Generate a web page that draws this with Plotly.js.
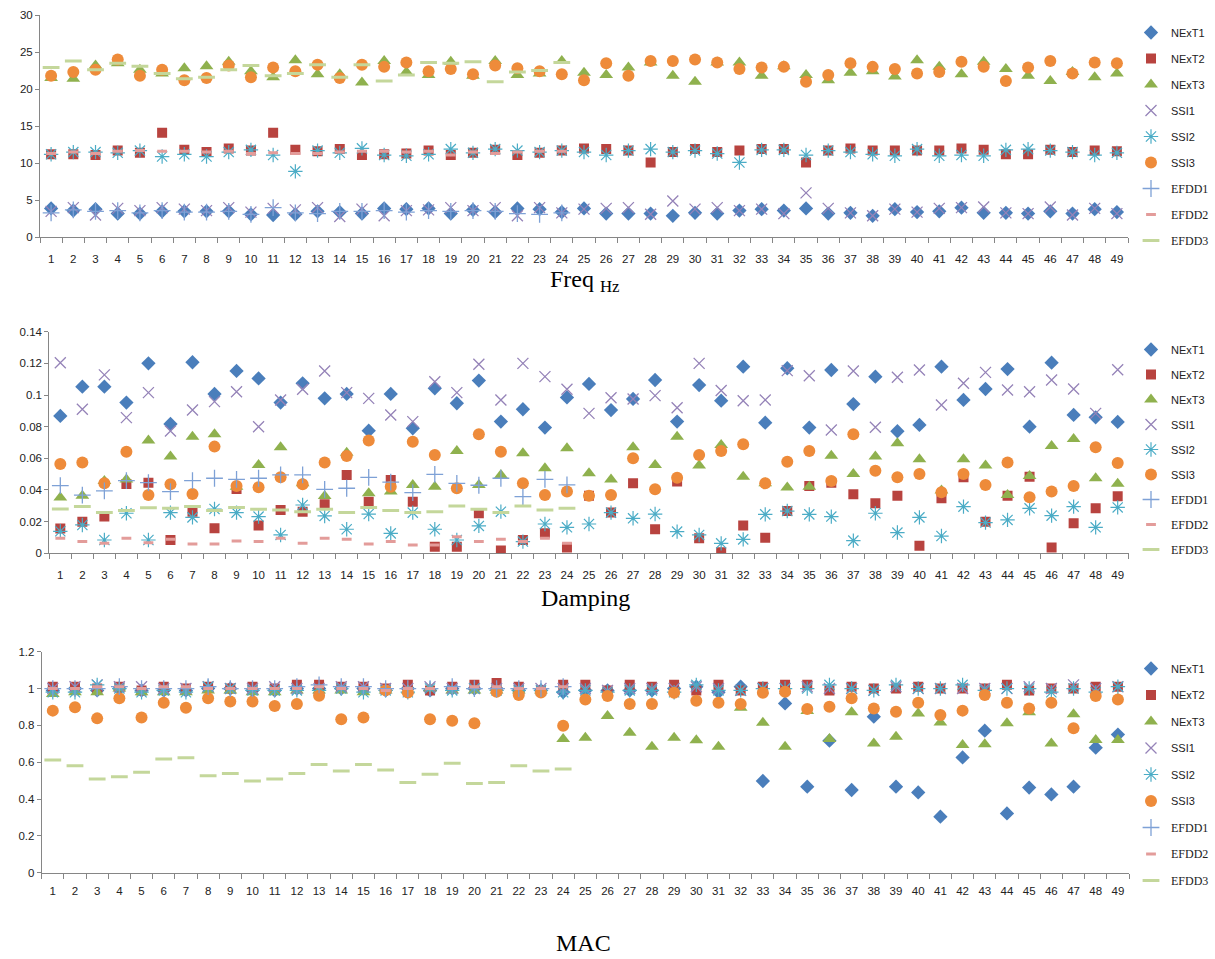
<!DOCTYPE html>
<html><head><meta charset="utf-8">
<script src="https://cdn.plot.ly/plotly-3.0.1.min.js"></script>
<style>html,body{margin:0;padding:0;background:#fff}#chart{width:1215px;height:959px}</style>
</head><body><div id="chart"></div>
<script>
// ---------- categories ----------
const categories = ['1','2','3','4','5','6','7','8','9','10','11','12','13','14','15','16','17','18','19','20','21','22','23','24','25','26','27','28','29','30','31','32','33','34','35','36','37','38','39','40','41','42','43','44','45','46','47','48','49'];
const seriesNames = ['NExT1','NExT2','NExT3','SSI1','SSI2','SSI3','EFDD1','EFDD2','EFDD3'];
const panelTitles = ['Freq <sub>Hz</sub>','Damping','MAC'];

// ---------- Freq (Hz) ----------
const freq_NExT1 = [3.9,3.6,3.8,3.2,3.2,3.5,3.5,3.5,3.5,3.1,3.0,3.1,3.5,3.4,3.2,3.9,3.8,3.9,3.2,3.7,3.4,3.9,3.8,3.4,3.9,3.2,3.2,3.2,2.9,3.3,3.2,3.6,3.8,3.6,3.9,3.2,3.3,2.9,3.8,3.4,3.5,4.0,3.3,3.3,3.2,3.5,3.2,3.8,3.4];
const freq_NExT2 = [11.2,11.2,11.1,11.7,11.4,14.1,11.8,11.5,12.0,11.7,14.1,11.8,11.6,11.9,11.1,11.2,11.3,11.7,11.1,11.4,11.8,11.1,11.4,11.7,12.0,11.9,11.7,10.1,11.5,11.9,11.5,11.7,11.9,11.9,10.1,11.7,12.0,11.7,11.7,11.7,11.7,12.0,11.8,11.2,11.2,11.8,11.5,11.7,11.6];
const freq_NExT3 = [21.5,21.4,23.2,23.5,22.6,22.1,22.8,23.1,23.7,22.4,21.6,23.9,22.0,22.0,20.9,23.8,22.3,21.9,23.7,21.8,23.8,21.9,22.1,23.8,22.2,21.9,22.9,23.6,21.8,21.0,23.6,23.6,21.8,23.1,21.9,21.2,22.2,22.4,21.7,23.9,23.0,22.0,23.7,22.7,21.8,21.1,22.3,21.6,22.1];
const freq_SSI1  = [3.5,4.0,3.0,3.9,3.6,4.0,3.8,3.6,4.0,3.4,3.9,3.7,4.0,2.8,3.8,2.9,3.6,3.7,4.0,3.6,4.0,2.9,4.0,3.3,3.8,3.9,4.0,3.1,4.9,3.8,4.0,3.6,3.8,3.2,6.0,3.9,3.3,2.9,3.8,3.4,3.9,4.0,4.1,3.3,3.2,4.1,3.0,3.9,3.2];
const freq_SSI2  = [11.2,11.5,11.5,11.4,11.7,10.9,11.2,10.9,11.5,11.8,11.1,8.9,11.7,11.4,12.0,11.1,11.0,11.2,11.9,11.4,11.9,11.7,11.5,11.7,11.5,11.1,11.7,11.9,11.5,11.7,11.3,10.1,11.8,11.8,11.1,11.7,11.5,11.2,11.0,11.9,11.0,11.1,11.0,11.8,11.9,11.7,11.5,11.1,11.4];
const freq_SSI3  = [21.8,22.3,22.6,24.0,21.8,22.6,21.2,21.5,23.2,21.6,22.9,22.4,23.3,21.5,23.3,23.0,23.6,22.4,22.7,22.0,23.2,22.8,22.4,22.0,21.2,23.5,21.8,23.8,23.8,24.0,23.6,22.7,22.9,23.0,21.0,21.9,23.5,23.0,22.7,22.1,22.3,23.7,23.0,21.1,22.9,23.8,22.1,23.6,23.5];
const freq_EFDD1 = [3.3,3.7,3.5,3.6,3.3,3.6,3.4,3.4,3.5,3.1,4.0,3.3,3.2,3.5,3.5,3.6,3.4,3.6,3.5,3.6,3.5,3.2,3.1,3.3];
const freq_EFDD2 = [11.3,11.5,11.3,11.6,11.7,11.6,11.6,11.5,11.6,11.3,11.4,11.3,11.3,11.5,11.6,11.6,11.5,11.6,11.1,11.5,11.3,11.5,11.6,11.6];
const freq_EFDD3 = [22.9,23.8,22.6,23.5,23.1,22.1,21.4,21.6,22.6,23.2,21.8,22.1,23.3,21.6,23.3,21.1,21.9,23.6,23.5,23.7,21.0,22.3,22.5,23.6];

// ---------- Damping ----------
const damp_NExT1 = [0.0868,0.1053,0.1053,0.0952,0.12,0.0817,0.1207,0.1007,0.1152,0.1105,0.0952,0.1074,0.0979,0.1007,0.0775,0.1007,0.079,0.1042,0.0948,0.1091,0.0832,0.091,0.0794,0.0985,0.107,0.0905,0.0975,0.1095,0.0832,0.1063,0.0964,0.1179,0.0825,0.1169,0.0794,0.1158,0.0943,0.1116,0.0771,0.0811,0.1179,0.0969,0.1038,0.1164,0.080,0.1204,0.0874,0.0859,0.083];
const damp_NExT2 = [0.0156,0.020,0.0232,0.0438,0.0446,0.0084,0.0263,0.0158,0.0406,0.0175,0.0274,0.0263,0.031,0.0495,0.0326,0.0463,0.0326,0.0042,0.0042,0.0253,0.0017,0.0084,0.0126,0.0036,0.0364,0.0257,0.0442,0.0152,0.0453,0.0095,0.0006,0.0175,0.0099,0.0267,0.0425,0.0446,0.0373,0.0316,0.0364,0.0048,0.0347,0.048,0.020,0.0364,0.0484,0.0036,0.019,0.0284,0.036];
const damp_NExT3 = [0.0352,0.0364,0.0457,0.0467,0.0712,0.0611,0.0737,0.0752,0.042,0.0558,0.067,0.0442,0.0362,0.0636,0.0379,0.039,0.0432,0.0421,0.0646,0.0432,0.0495,0.0632,0.0537,0.0663,0.0505,0.0467,0.067,0.0558,0.0737,0.0554,0.0684,0.0484,0.0442,0.0415,0.0421,0.0617,0.0501,0.0611,0.0695,0.0594,0.0396,0.0594,0.0554,0.0368,0.0489,0.0678,0.0722,0.0474,0.044];
const damp_SSI1  = [0.1204,0.091,0.1127,0.0857,0.1015,0.0773,0.0905,0.0958,0.1021,0.080,0.0969,0.1036,0.1152,0.1015,0.0979,0.0874,0.0832,0.1084,0.1015,0.1194,0.0969,0.12,0.1116,0.1036,0.0884,0.0983,0.0975,0.0996,0.092,0.12,0.1028,0.0964,0.0969,0.1154,0.1122,0.0779,0.1152,0.0796,0.1112,0.1158,0.0937,0.1074,0.1143,0.1032,0.1021,0.1095,0.1038,0.0884,0.116];
const damp_SSI2  = [0.0139,0.0179,0.0084,0.0253,0.0084,0.0257,0.0227,0.028,0.0257,0.0232,0.0116,0.0305,0.0236,0.0152,0.0248,0.0126,0.0257,0.0152,0.0084,0.0173,0.0263,0.0074,0.0185,0.0164,0.0185,0.0257,0.0221,0.0248,0.0137,0.0116,0.0063,0.0088,0.0246,0.0267,0.0246,0.0232,0.008,0.0253,0.0131,0.0227,0.0109,0.0295,0.0194,0.0211,0.0284,0.0238,0.0295,0.0164,0.029];
const damp_SSI3  = [0.0564,0.0573,0.0442,0.0642,0.0368,0.0436,0.0375,0.0674,0.0425,0.0417,0.048,0.0436,0.0573,0.0615,0.0712,0.0421,0.0705,0.0621,0.0411,0.0752,0.0642,0.0442,0.0368,0.039,0.0364,0.0368,0.060,0.0404,0.0478,0.0621,0.0646,0.0689,0.0442,0.0579,0.0646,0.0457,0.0752,0.0522,0.048,0.0501,0.0385,0.0501,0.0432,0.0573,0.0354,0.039,0.0425,0.067,0.057];
const damp_EFDD1 = [0.0427,0.0368,0.0394,0.0459,0.0446,0.039,0.0459,0.0474,0.0467,0.0474,0.0495,0.0495,0.0404,0.0411,0.048,0.045,0.0383,0.0499,0.0442,0.043,0.0474,0.0358,0.0467,0.0432];
const damp_EFDD2 = [0.0095,0.0074,0.0063,0.0095,0.0067,0.0088,0.0059,0.0059,0.0078,0.0074,0.0095,0.0063,0.0095,0.0088,0.0059,0.0074,0.0053,0.0053,0.0105,0.0074,0.0088,0.0074,0.0095,0.0063];
const damp_EFDD3 = [0.028,0.0295,0.0257,0.027,0.0288,0.0284,0.0295,0.027,0.029,0.0278,0.0274,0.0263,0.0278,0.0257,0.029,0.027,0.0257,0.0263,0.0299,0.0278,0.0257,0.0299,0.0274,0.0284];

// ---------- MAC ----------
const mac_NExT1 = [0.99,1.0,0.99,1.0,0.99,0.99,0.99,1.0,1.0,0.99,0.99,1.0,1.0,1.0,1.0,0.99,1.0,0.99,1.0,1.0,1.0,0.99,0.99,0.98,0.99,0.99,0.99,0.99,1.0,1.01,0.98,1.01,0.498,0.919,0.467,0.717,0.449,0.847,0.467,0.436,0.304,0.626,0.771,0.322,0.462,0.425,0.467,0.679,0.75];
const mac_NExT2 = [1.01,1.01,1.0,1.01,0.99,1.01,1.0,1.01,1.0,1.01,1.0,1.02,1.02,1.01,1.01,1.0,1.02,0.99,1.01,1.02,1.03,1.01,0.99,1.02,1.02,0.99,1.02,1.01,1.02,0.99,1.02,0.99,1.01,1.02,1.02,0.99,1.01,1.0,1.0,1.01,1.0,1.0,1.0,1.02,0.99,1.0,1.0,1.01,1.01];
const mac_NExT3 = [0.97,0.98,0.98,1.0,0.98,0.98,0.98,0.99,0.99,0.98,0.98,0.99,0.99,0.99,0.98,0.99,0.99,1.0,0.99,0.99,0.99,0.99,0.99,0.726,0.733,0.851,0.76,0.684,0.733,0.719,0.684,0.896,0.814,0.684,0.878,0.726,0.871,0.702,0.738,0.865,0.816,0.693,0.697,0.811,0.871,0.702,0.86,0.72,0.72];
const mac_SSI1  = [1.0,1.01,1.02,1.01,1.01,1.0,1.0,1.01,1.0,1.0,1.01,1.0,1.0,1.01,1.01,1.0,1.0,1.01,1.0,1.0,1.0,1.0,1.0,1.0,1.0,0.99,1.0,1.0,1.0,1.01,1.0,0.99,1.0,1.0,1.01,1.0,1.0,0.99,1.01,1.0,1.0,1.0,1.0,1.0,1.01,1.0,1.02,1.0,1.01];
const mac_SSI2  = [0.98,0.98,1.02,1.0,0.98,0.99,0.98,1.01,1.0,0.99,0.99,0.99,0.99,1.0,0.98,0.99,0.98,1.0,0.99,1.0,0.99,0.99,0.99,0.98,0.99,0.98,0.99,0.99,0.98,1.02,0.99,0.99,1.0,1.0,1.0,1.02,1.0,0.99,1.02,1.0,1.0,1.02,0.99,1.0,1.0,0.98,1.0,0.98,1.01];
const mac_SSI3  = [0.88,0.898,0.838,0.947,0.843,0.923,0.896,0.947,0.929,0.929,0.905,0.916,0.961,0.833,0.843,0.99,0.979,0.833,0.825,0.811,0.983,0.965,0.979,0.798,0.941,0.959,0.916,0.916,0.977,0.934,0.923,0.916,0.977,0.983,0.889,0.901,0.947,0.892,0.874,0.923,0.856,0.88,0.965,0.923,0.892,0.923,0.784,0.959,0.94];
const mac_EFDD1 = [1.0,1.0,1.0,1.01,1.0,1.0,1.0,1.01,1.0,1.0,1.0,1.01,1.02,1.01,1.01,1.0,1.0,1.0,1.01,1.0,1.0,1.0,1.0,1.01];
const mac_EFDD2 = [1.0,1.0,1.01,1.01,1.0,1.01,1.01,1.0,1.0,1.0,1.0,1.0,1.01,1.0,1.0,0.99,1.0,1.0,1.0,1.01,1.01,1.0,1.0,1.01];
const mac_EFDD3 = [0.612,0.581,0.509,0.521,0.545,0.617,0.624,0.527,0.539,0.498,0.509,0.539,0.588,0.552,0.588,0.557,0.49,0.534,0.594,0.485,0.49,0.581,0.552,0.563];

// ---------- styles ----------
const styles = {
  NExT1: {symbol:'diamond', size:11, color:'#4A7EBB', open:false},
  NExT2: {symbol:'square', size:10, color:'#B8433F', open:false},
  NExT3: {symbol:'triangle-up', size:12, color:'#8FB14E', open:false},
  SSI1:  {symbol:'x-thin-open', size:11, color:'#9583B8', open:true, lw:1.3},
  SSI2:  {symbol:'asterisk-open', size:12, color:'#4BACC6', open:true, lw:1.2},
  SSI3:  {symbol:'circle', size:12, color:'#EE8B3A', open:false},
  EFDD1: {symbol:'cross-thin-open', size:12, color:'#7EA1D6', open:true, lw:1.3},
  EFDD2: {symbol:'line-ew-open', size:7, color:'#E39C9A', open:true, lw:3},
  EFDD3: {symbol:'line-ew-open', size:12, color:'#C4D79B', open:true, lw:3}
};
const legendLabel = n => n.startsWith('EFDD')
  ? '<span style="font-family:Liberation Serif;font-size:12px">' + n + '</span>' : n;

const panels = [
  {xa:'x',  ya:'y',  lg:'legend',  data:[freq_NExT1,freq_NExT2,freq_NExT3,freq_SSI1,freq_SSI2,freq_SSI3,freq_EFDD1,freq_EFDD2,freq_EFDD3]},
  {xa:'x2', ya:'y2', lg:'legend2', data:[damp_NExT1,damp_NExT2,damp_NExT3,damp_SSI1,damp_SSI2,damp_SSI3,damp_EFDD1,damp_EFDD2,damp_EFDD3]},
  {xa:'x3', ya:'y3', lg:'legend3', data:[mac_NExT1,mac_NExT2,mac_NExT3,mac_SSI1,mac_SSI2,mac_SSI3,mac_EFDD1,mac_EFDD2,mac_EFDD3]}
];

const traces = [];
panels.forEach((p, pi) => {
  seriesNames.forEach((name, si) => {
    const st = styles[name];
    const vals = p.data[si];
    const marker = {symbol: st.symbol, size: st.size};
    if (st.open) { marker.color = st.color; marker.line = {color: st.color, width: st.lw}; }
    else { marker.color = st.color; marker.line = {width: 0}; }
    traces.push({
      type:'scatter', mode:'markers',
      x: categories.slice(0, vals.length), y: vals,
      xaxis: p.xa, yaxis: p.ya, legend: p.lg,
      legendgroup: 'p' + pi + name,
      name: legendLabel(name), marker: marker, hoverinfo:'skip'
    });
  });
});

const W = 1215, H = 959;
const tickFont = {family:'Liberation Sans, Arial, sans-serif', size:11.5, color:'#222'};
function xAx(l, r, anchor, standoff) {
  return {domain:[l/W, r/W], anchor: anchor, type:'category', categoryorder:'array', categoryarray: categories,
    range:[-0.5, 48.5], tickmode:'linear', tick0:0, dtick:1, tickson:'boundaries', ticks:'outside', ticklen:5,
    ticklabelstandoff: standoff,
    tickangle:0, tickcolor:'#868686', showline:true, linecolor:'#868686', linewidth:1, showgrid:false, zeroline:false,
    tickfont: tickFont, fixedrange:true};
}
function yAx(top, bot, anchor, rng, dt) {
  return {domain:[1 - bot/H, 1 - top/H], anchor: anchor, range: rng, dtick: dt, tick0:0, ticks:'outside', ticklen:4,
    tickcolor:'#868686', showline:true, linecolor:'#868686', linewidth:1, showgrid:false, zeroline:false,
    tickfont: tickFont, fixedrange:true};
}
function legendAt(yTop, gap) {
  return {x: 1131/W, xanchor:'left', y: 1 - yTop/H, yanchor:'top', traceorder:'grouped', tracegroupgap: gap,
    font:{family:'Liberation Sans, Arial, sans-serif', size:11, color:'#222'}, bgcolor:'rgba(0,0,0,0)',
    borderwidth:0, itemwidth:30, itemclick:false, itemdoubleclick:false};
}
const titleFont = {family:'Liberation Serif, Times New Roman, serif', size:24, color:'#000'};

const layout = {
  width: W, height: H, autosize:false, margin:{l:0, r:0, t:0, b:0},
  paper_bgcolor:'#fff', plot_bgcolor:'#fff', showlegend:true,
  xaxis:  xAx(40, 1128, 'y', 11),
  yaxis:  yAx(15, 237.3, 'x', [0, 30], 5),
  xaxis2: xAx(49.3, 1128.7, 'y2', 11),
  yaxis2: yAx(331.7, 553.3, 'x2', [0, 0.14], 0.02),
  xaxis3: xAx(41.7, 1129, 'y3', 7),
  yaxis3: yAx(651.7, 872.7, 'x3', [0, 1.2], 0.2),
  legend: legendAt(18, 7),
  legend2: legendAt(335, 6),
  legend3: legendAt(654, 7.5),
  annotations: [
    {text: panelTitles[0], xref:'paper', yref:'paper', x: 585/W, y: 1 - 281/H, xanchor:'center', yanchor:'middle', showarrow:false, font: titleFont},
    {text: panelTitles[1], xref:'paper', yref:'paper', x: 585/W, y: 1 - 598/H, xanchor:'center', yanchor:'middle', showarrow:false, font: titleFont},
    {text: panelTitles[2], xref:'paper', yref:'paper', x: 583/W, y: 1 - 943/H, xanchor:'center', yanchor:'middle', showarrow:false, font: titleFont}
  ]
};

Plotly.newPlot('chart', traces, layout, {displayModeBar:false, staticPlot:true});
</script>
</body></html>
